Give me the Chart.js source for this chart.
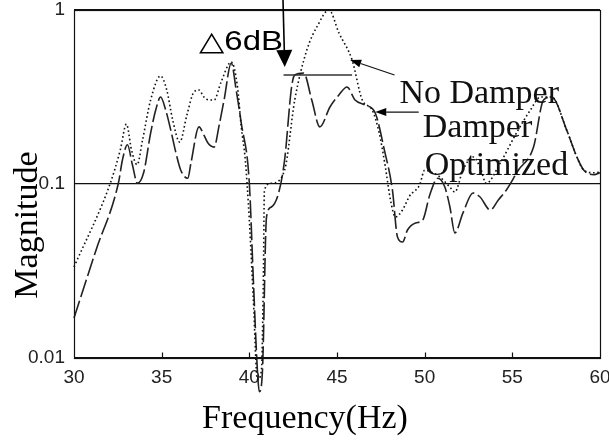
<!DOCTYPE html>
<html>
<head>
<meta charset="utf-8">
<script src="https://cdn.jsdelivr.net/npm/chart.js@4.4.1/dist/chart.umd.min.js"></script>
<style>
  html, body { margin: 0; padding: 0; background: #fff; }
  #wrap { width: 609px; height: 448px; }
</style>
</head>
<body>
<div id="wrap"><canvas id="chart" width="609" height="448"></canvas></div>
<script>
// values (frequency in Hz, magnitude on a log axis)
const freqNoDamper = [30.0, 32.07, 32.64, 32.99, 33.28, 33.6, 33.91, 34.37, 34.94, 35.29, 35.63, 36.03, 36.44, 36.84, 37.13, 37.41, 37.70, 37.99, 38.39, 38.97, 39.31, 39.54, 39.77, 40.0, 40.23, 40.46, 40.69, 40.80, 40.86, 41.26, 42.01, 42.59, 43.28, 43.91, 44.54, 45.11, 45.86, 46.44, 47.01, 47.41, 47.76, 48.05, 48.33, 48.74, 49.14, 49.71, 50.0, 50.46, 50.86, 51.44, 51.72, 52.18, 52.76, 53.16, 53.51, 54.31, 55.23, 56.03, 56.61, 57.24, 58.10, 58.68, 59.08, 59.66, 60.0];
const magNoDamper = [0.0333, 0.101, 0.157, 0.221, 0.157, 0.129, 0.179, 0.304, 0.418, 0.347, 0.233, 0.174, 0.249, 0.338, 0.347, 0.316, 0.304, 0.304, 0.386, 0.503, 0.371, 0.213, 0.137, 0.062, 0.0216, 0.0075, 0.0085, 0.028, 0.0924, 0.101, 0.120, 0.304, 0.589, 0.820, 1.0, 0.738, 0.516, 0.304, 0.266, 0.196, 0.125, 0.081, 0.0646, 0.071, 0.0853, 0.0987, 0.120, 0.116, 0.110, 0.096, 0.090, 0.120, 0.143, 0.125, 0.101, 0.132, 0.196, 0.266, 0.316, 0.316, 0.204, 0.143, 0.120, 0.116, 0.117];

const freqDamper = [30.0, 31.26, 32.53, 32.76, 33.05, 33.33, 33.62, 33.97, 34.37, 34.66, 34.94, 35.23, 35.52, 35.80, 36.09, 36.49, 36.67, 37.13, 37.41, 37.64, 37.99, 38.28, 38.56, 38.97, 39.25, 39.54, 40.0, 40.23, 40.46, 40.57, 40.75, 40.98, 41.26, 41.67, 42.01, 42.41, 42.59, 43.10, 43.56, 44.02, 44.60, 45.11, 45.57, 46.03, 46.61, 47.18, 47.70, 48.16, 48.45, 48.74, 49.02, 49.48, 49.89, 50.29, 50.75, 51.15, 51.44, 51.72, 52.18, 52.76, 53.16, 53.74, 54.20, 54.66, 55.34, 56.21, 56.78, 57.24, 58.10, 58.68, 59.08, 59.66, 60.0];
const magDamper = [0.0170, 0.0418, 0.101, 0.137, 0.168, 0.129, 0.101, 0.116, 0.196, 0.266, 0.316, 0.266, 0.204, 0.153, 0.120, 0.108, 0.132, 0.213, 0.191, 0.172, 0.163, 0.218, 0.304, 0.496, 0.347, 0.224, 0.101, 0.028, 0.0085, 0.0064, 0.0085, 0.0646, 0.0738, 0.0888, 0.137, 0.361, 0.423, 0.434, 0.304, 0.213, 0.277, 0.325, 0.361, 0.304, 0.284, 0.256, 0.157, 0.0924, 0.0496, 0.0464, 0.0544, 0.0597, 0.0621, 0.0865, 0.108, 0.096, 0.0738, 0.0523, 0.068, 0.0888, 0.0842, 0.0709, 0.081, 0.0924, 0.120, 0.163, 0.304, 0.316, 0.204, 0.143, 0.120, 0.113, 0.116];

const xTicks = [30, 35, 40, 45, 50, 55, 60];
const yTicks = [0.01, 0.1, 1];

const xTitle = 'Frequency(Hz)';
const yTitle = 'Magnitude';
const deltaLabel = '△6dB';
const noDamperLabel = 'No Damper';
const damperLabel = ['Damper', 'Optimized'];

const toPoints = (xs, ys) => xs.map((x, i) => ({ x: x, y: ys[i] }));

function drawArrow(ctx, x1, y1, x2, y2, len, half) {
  const ang = Math.atan2(y2 - y1, x2 - x1);
  const bx = x2 - len * Math.cos(ang), by = y2 - len * Math.sin(ang);
  ctx.beginPath();
  ctx.moveTo(x1, y1);
  ctx.lineTo(bx, by);
  ctx.stroke();
  ctx.beginPath();
  ctx.moveTo(x2, y2);
  ctx.lineTo(bx + half * Math.sin(ang), by - half * Math.cos(ang));
  ctx.lineTo(bx - half * Math.sin(ang), by + half * Math.cos(ang));
  ctx.closePath();
  ctx.fill();
}

// frame, inner ticks, axis titles and the hand-drawn notes
const overlay = {
  id: 'overlay',
  afterDraw(chart) {
    const { ctx, chartArea: a, scales } = chart;
    const px = v => scales.x.getPixelForValue(v);
    const py = v => scales.y.getPixelForValue(v);
    ctx.save();
    ctx.strokeStyle = '#111';
    ctx.fillStyle = '#000';
    ctx.lineWidth = 1.2;
    const l = Math.round(a.left) + 0.5, t = Math.round(a.top) + 0.5;
    const r = Math.round(a.right) + 0.5, b = Math.round(a.bottom) + 0.5;
    ctx.strokeRect(l, t, r - l, b - t);

    ctx.beginPath();
    xTicks.slice(1, -1).forEach(v => {
      const xx = Math.round(px(v)) + 0.5;
      ctx.moveTo(xx, b);
      ctx.lineTo(xx, b - 6);
    });
    ctx.stroke();

    // axis titles
    ctx.font = '34px "Liberation Serif", "Times New Roman", serif';
    ctx.textAlign = 'center';
    ctx.textBaseline = 'alphabetic';
    ctx.fillText(xTitle, 305, 428);
    ctx.save();
    ctx.translate(37, 225);
    ctx.rotate(-Math.PI / 2);
    ctx.fillText(yTitle, 0, 0);
    ctx.restore();

    // delta 6 dB note
    ctx.save();
    ctx.font = '27px "Liberation Sans", "DejaVu Sans", sans-serif';
    ctx.textAlign = 'left';
    const w = ctx.measureText(deltaLabel).width;
    ctx.translate(px(37.13), py(0.589));
    ctx.scale(84 / w, 1);
    ctx.fillText(deltaLabel, 0, 0);
    ctx.restore();

    ctx.lineWidth = 1.6;
    ctx.strokeStyle = '#000';
    drawArrow(ctx, px(41.92), py(1.14), px(42.02), py(0.47), 17, 8);

    ctx.lineWidth = 1.3;
    ctx.strokeStyle = '#333';
    ctx.beginPath();
    ctx.moveTo(px(41.95), py(0.423));
    ctx.lineTo(px(45.86), py(0.423));
    ctx.stroke();

    ctx.strokeStyle = '#111';
    ctx.lineWidth = 1.2;
    drawArrow(ctx, px(48.28), py(0.423), px(45.75), py(0.516), 11, 4);
    drawArrow(ctx, px(49.66), py(0.259), px(47.18), py(0.259), 11, 4);

    ctx.font = '34px "Liberation Serif", "Times New Roman", serif';
    ctx.textAlign = 'left';
    ctx.fillStyle = '#111';
    ctx.fillText(noDamperLabel, px(48.56), py(0.292));
    ctx.fillText(damperLabel[0], px(49.89), py(0.186));
    ctx.fillText(damperLabel[1], px(50.0), py(0.113));
    ctx.restore();
  }
};

const tickFont = { family: '"Liberation Sans", Arial, sans-serif', size: 19 };

new Chart(document.getElementById('chart'), {
  type: 'line',
  data: {
    datasets: [
      {
        label: 'No Damper',
        data: toPoints(freqNoDamper, magNoDamper),
        borderColor: '#111',
        borderWidth: 1.6,
        borderDash: [1.6, 2.6],
        pointRadius: 0,
        cubicInterpolationMode: 'monotone',
        clip: false,
      },
      {
        label: 'Damper Optimized',
        data: toPoints(freqDamper, magDamper),
        borderColor: '#222',
        borderWidth: 1.6,
        borderDash: [18, 4],
        pointRadius: 0,
        cubicInterpolationMode: 'monotone',
        clip: false,
      },
    ],
  },
  options: {
    responsive: false,
    animation: false,
    devicePixelRatio: 1,
    layout: { padding: { top: 10, right: 9, left: 0, bottom: 0 } },
    plugins: {
      legend: { display: false },
      tooltip: { enabled: false },
    },
    scales: {
      x: {
        type: 'linear',
        min: 30,
        max: 60,
        afterBuildTicks: s => { s.ticks = xTicks.map(v => ({ value: v })); },
        afterFit: s => { s.height = 90; s.paddingLeft = 0; s.paddingRight = 0; },
        grid: { display: false },
        border: { display: false },
        ticks: { font: tickFont, color: '#222', padding: 0, maxRotation: 0, autoSkip: false },
      },
      y: {
        type: 'logarithmic',
        min: 0.01,
        max: 1,
        afterBuildTicks: s => { s.ticks = yTicks.map(v => ({ value: v })); },
        afterFit: s => { s.width = 74; s.paddingTop = 0; s.paddingBottom = 0; },
        grid: { color: '#111', lineWidth: 1.2, drawTicks: false },
        border: { display: false },
        ticks: { font: tickFont, color: '#222', padding: 9, callback: v => String(v) },
      },
    },
  },
  plugins: [overlay],
});
</script>
</body>
</html>
